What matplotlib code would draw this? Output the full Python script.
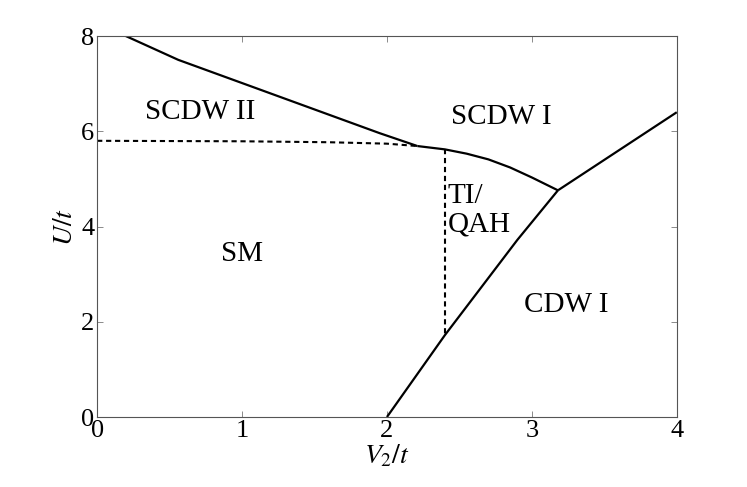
import numpy as np
import matplotlib
matplotlib.use("Agg")
import matplotlib.pyplot as plt

plt.rcParams["font.family"] = ["Liberation Serif", "DejaVu Serif"]
plt.rcParams["mathtext.fontset"] = "stix"

# phase boundaries (V2/t, U/t)
scdw_top_x = [0.198, 0.56, 1.12, 1.95, 2.21]
scdw_top_y = [8.0, 7.50, 6.88, 5.96, 5.69]
scdw_ti_x = [2.21, 2.40, 2.55, 2.70, 2.85, 3.00, 3.18]
scdw_ti_y = [5.69, 5.62, 5.53, 5.41, 5.24, 5.03, 4.76]
cdw_x = [2.0, 2.40, 2.90, 3.18]
cdw_y = [0.0, 1.72, 3.72, 4.76]
right_x = [3.18, 4.0]
right_y = [4.76, 6.40]
sm_dash_x = [0.0, 1.0, 1.6, 2.0, 2.21]
sm_dash_y = [5.80, 5.79, 5.77, 5.74, 5.69]
ti_dash_x = [2.40, 2.40]
ti_dash_y = [5.62, 1.72]

labels = ["SCDW II", "SCDW I", "TI/\nQAH", "SM", "CDW I"]
label_x = [0.71, 2.79, 2.42, 1.0, 3.24]
label_y = [6.40, 6.30, 4.35, 3.42, 2.35]
label_ha = ["center", "center", "left", "center", "center"]

fig = plt.figure(figsize=(7.47, 4.87), dpi=100)
ax = fig.add_axes([0.130, 0.1437, 0.776, 0.7823])

solid = dict(color="black", lw=1.6, solid_capstyle="butt", solid_joinstyle="round")
dash = dict(color="black", lw=1.5, ls=(0, (2.5, 1.8)))
for xs, ys in [(scdw_top_x, scdw_top_y), (scdw_ti_x, scdw_ti_y),
               (cdw_x, cdw_y), (right_x, right_y)]:
    ax.plot(xs, ys, **solid)
ax.plot(sm_dash_x, sm_dash_y, **dash)
ax.plot(ti_dash_x, ti_dash_y, **dash)

for t, x, y, ha in zip(labels, label_x, label_y, label_ha):
    ax.text(x, y, t, fontsize=21, ha=ha, va="center", linespacing=1.12)

ax.set_xlim(0, 4)
ax.set_ylim(0, 8)
ax.set_xticks([0, 1, 2, 3, 4])
ax.set_yticks([0, 2, 4, 6, 8])
ax.tick_params(direction="in", length=4, width=0.6, color="#777777",
               labelsize=19, top=True, right=True, pad=2)
for s in ax.spines.values():
    s.set_color("#555555")
    s.set_linewidth(0.8)
ax.set_xlabel(r"$V_2/t$", fontsize=20, labelpad=1)
ax.set_ylabel(r"$U/t$", fontsize=20, labelpad=2)

fig.savefig("out.png", dpi=100)
